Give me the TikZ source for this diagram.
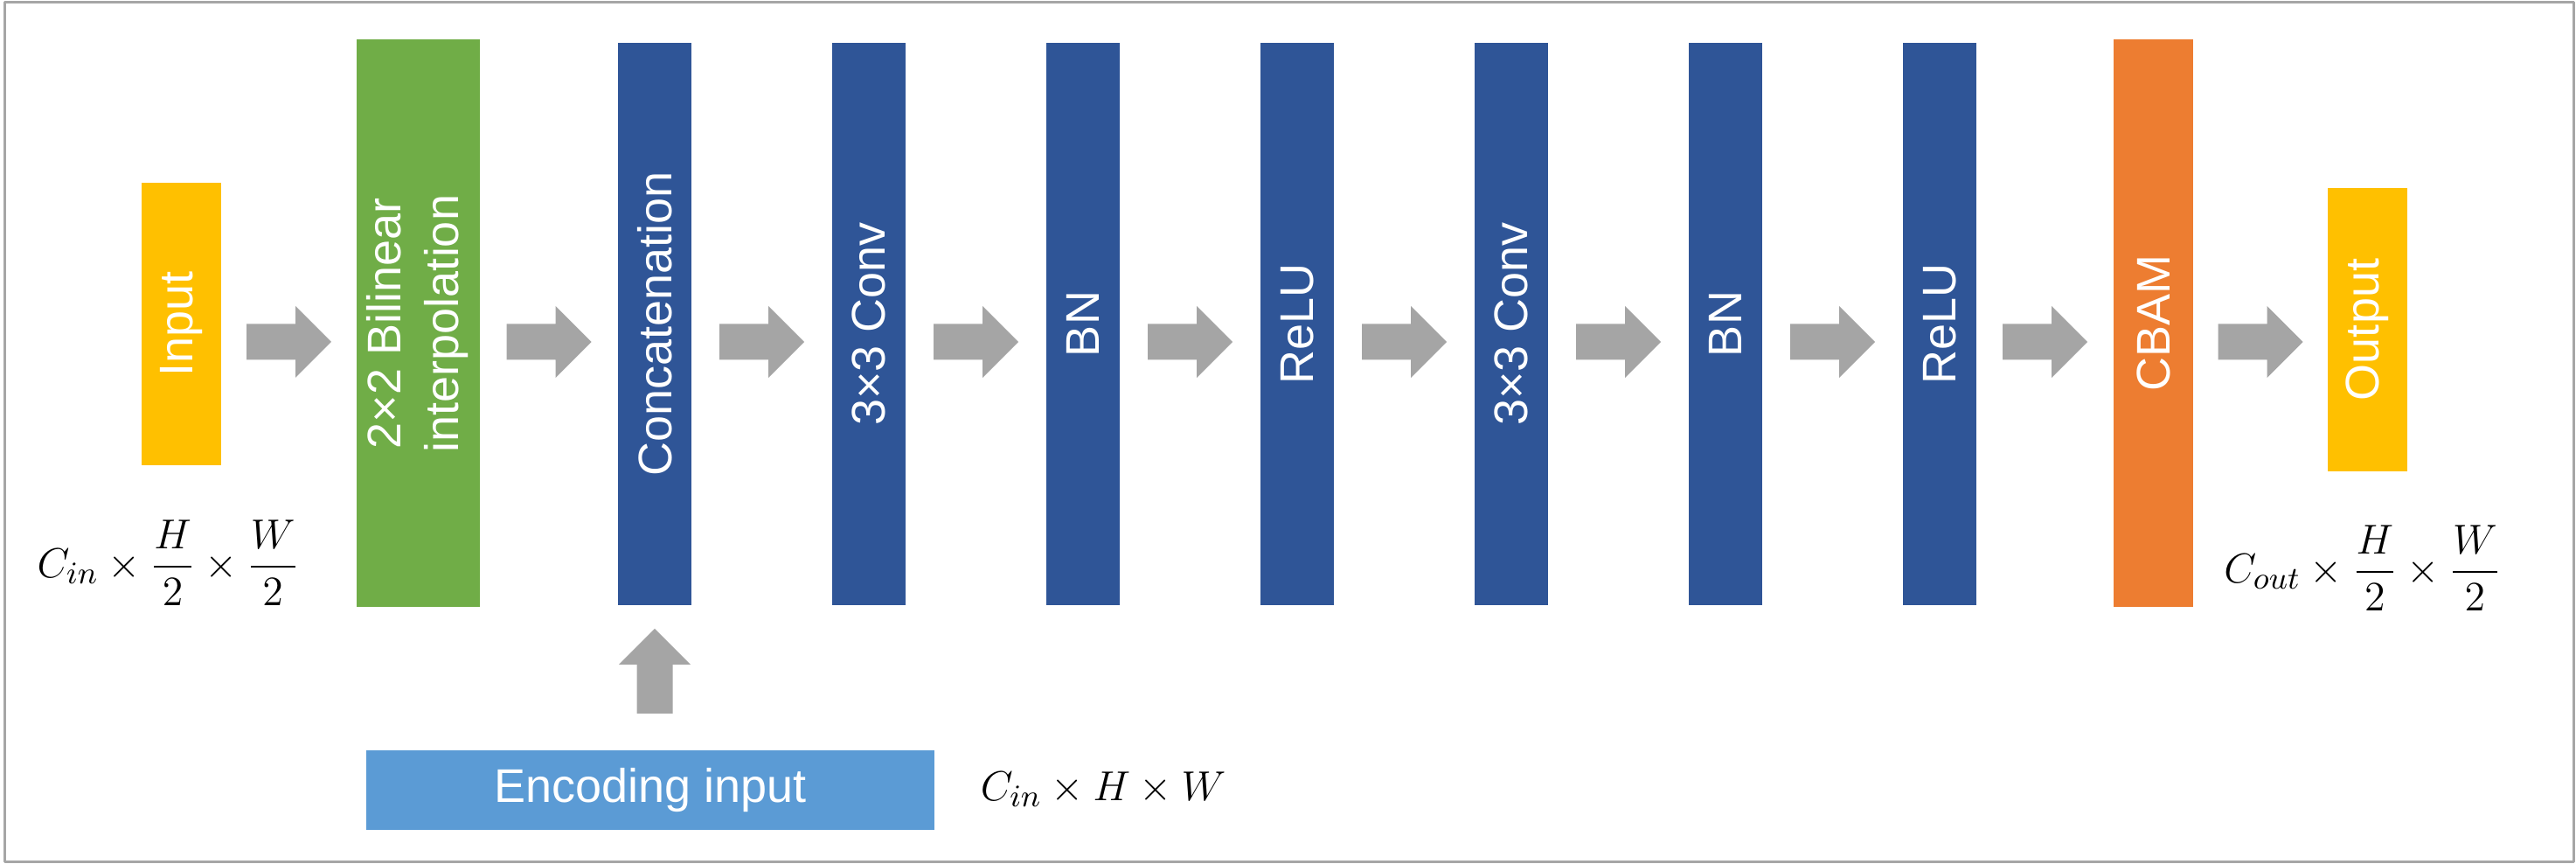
\documentclass[tikz,border=0pt]{standalone}
\usepackage{fontspec}
\setmainfont{Liberation Sans}
\usetikzlibrary{calc}

\definecolor{inyellow}{HTML}{FFC000}
\definecolor{interpgreen}{HTML}{70AD47}
\definecolor{convblue}{HTML}{2F5597}
\definecolor{cbamorange}{HTML}{ED7D31}
\definecolor{encblue}{HTML}{5B9BD5}
\definecolor{arrowgray}{HTML}{A5A5A5}
\definecolor{framegray}{HTML}{A6A6A6}

\tikzset{
  layer/.style={rectangle, inner sep=0pt, text=white, font=\fontsize{13.5bp}{16.5bp}\selectfont},
  tall/.style={layer, minimum width=21bp, minimum height=160.75bp, fill=convblue},
  dimtext/.style={inner sep=0pt, text=black, font=\fontsize{13bp}{16bp}\selectfont},
}

% fat gray arrow between two nodes, on the arrow axis
\newcommand{\fatarrow}[2]{%
  \coordinate (mid) at ($(#1.east)!.5!(#2.west)$);
  \fill[arrowgray] (mid |- axis) ++(-12.125bp,5.125bp) -- ++(14bp,0) -- ++(0,5.125bp)
    -- ++(10.25bp,-10.25bp) -- ++(-10.25bp,-10.25bp) -- ++(0,5.125bp) -- ++(-14bp,0) -- cycle;}

\begin{document}
\begin{tikzpicture}[line join=bevel]
  \useasboundingbox (0bp,0bp) rectangle (736.75bp,247bp);
  \draw[framegray, line width=0.75bp] (1.25bp,0.6bp) rectangle (736bp,246.4bp);
  \coordinate (axis) at (0bp,149.25bp);
%%
  % Node: Input
  \node[layer, fill=inyellow, minimum width=22.75bp, minimum height=80.75bp] (input) at (51.875bp,154.375bp) {\rotatebox{90}{Input}};
  % Node: Interp
  \node[layer, fill=interpgreen, minimum width=35.25bp, minimum height=162.25bp] (interp) at (119.625bp,154.5bp)
    {\rotatebox{90}{\begin{tabular}{@{}c@{}}2×2 Bilinear\\interpolation\end{tabular}}};
  % Node: Concat
  \node[tall] (concat) at (187.25bp,154.375bp) {\rotatebox{90}{Concatenation}};
  % Node: ConvA
  \node[tall] (conva) at (248.5bp,154.375bp) {\rotatebox{90}{3×3 Conv}};
  % Node: BNA
  \node[tall] (bna) at (309.75bp,154.375bp) {\rotatebox{90}{BN}};
  % Node: ReLUA
  \node[tall] (relua) at (371bp,154.375bp) {\rotatebox{90}{ReLU}};
  % Node: ConvB
  \node[tall] (convb) at (432.25bp,154.375bp) {\rotatebox{90}{3×3 Conv}};
  % Node: BNB
  \node[tall] (bnb) at (493.5bp,154.375bp) {\rotatebox{90}{BN}};
  % Node: ReLUB
  \node[tall] (relub) at (554.75bp,154.375bp) {\rotatebox{90}{ReLU}};
  % Node: CBAM
  \node[layer, fill=cbamorange, minimum width=22.75bp, minimum height=162.25bp] (cbam) at (615.875bp,154.625bp) {\rotatebox{90}{CBAM}};
  % Node: Output
  \node[layer, fill=inyellow, minimum width=22.75bp, minimum height=81bp] (output) at (677.125bp,152.75bp) {\rotatebox{90}{Output}};
  % Node: Enc
  \node[layer, fill=encblue, minimum width=162.5bp, minimum height=22.75bp] (enc) at (186bp,21.125bp) {Encoding input};
%%
  % Sizes
  \node[dimtext] (insize) at (48.125bp,86bp) {$\displaystyle C_{in}\times\frac{H}{2}\times\frac{W}{2}$};
  \node[dimtext] (outsize) at (675.75bp,84.5bp) {$\displaystyle C_{out}\times\frac{H}{2}\times\frac{W}{2}$};
  \node[dimtext, anchor=base west] (encsize) at (280.25bp,18.25bp) {$C_{in}\times H\times W$};
%%
  % Edge: Input -> Interp
  \fatarrow{input}{interp}
  % Edge: Interp -> Concat
  \fatarrow{interp}{concat}
  % Edge: Concat -> ConvA
  \fatarrow{concat}{conva}
  % Edge: ConvA -> BNA
  \fatarrow{conva}{bna}
  % Edge: BNA -> ReLUA
  \fatarrow{bna}{relua}
  % Edge: ReLUA -> ConvB
  \fatarrow{relua}{convb}
  % Edge: ConvB -> BNB
  \fatarrow{convb}{bnb}
  % Edge: BNB -> ReLUB
  \fatarrow{bnb}{relub}
  % Edge: ReLUB -> CBAM
  \fatarrow{relub}{cbam}
  % Edge: CBAM -> Output
  \fatarrow{cbam}{output}
  % Edge: Enc -> Concat
  \fill[arrowgray] (concat.south) ++(0,-6.5bp) -- ++(10.25bp,-10.25bp) -- ++(-5.125bp,0) -- ++(0,-14bp)
    -- ++(-10.25bp,0) -- ++(0,14bp) -- ++(-5.125bp,0) -- cycle;
%
\end{tikzpicture}
\end{document}
